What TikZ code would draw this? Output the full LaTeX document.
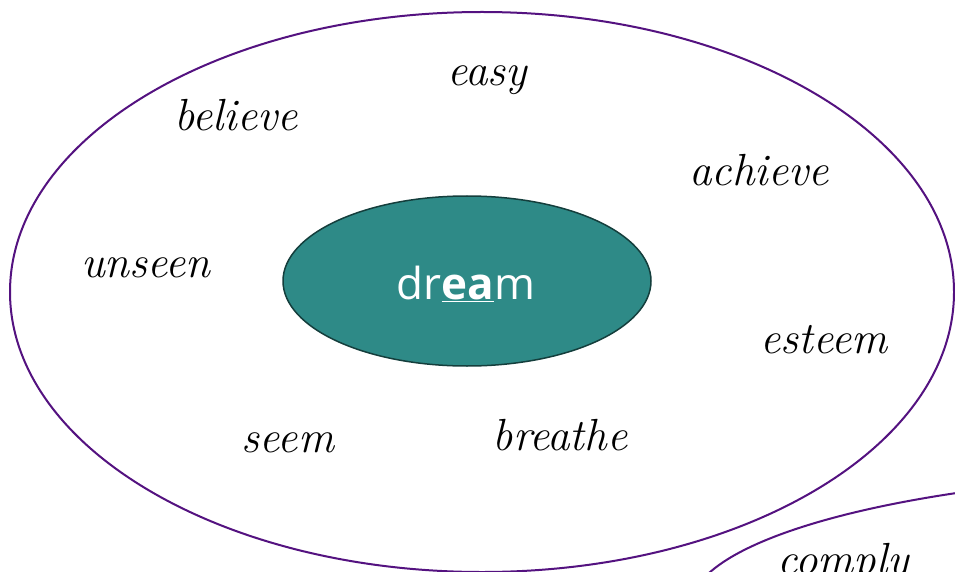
\documentclass[tikz,border=0pt]{standalone}
\usepackage{fontspec}
\usetikzlibrary{shapes.geometric}
\newfontfamily\dreamfont{Open Sans}
\definecolor{ringpurple}{RGB}{84,18,128}
\definecolor{teal1}{RGB}{46,138,135}
\definecolor{teal2}{RGB}{20,62,60}
\tikzset{
  ring/.style={draw=ringpurple, line width=2pt},
  word/.style={font=\fontsize{45}{47}\selectfont\itshape, text=black, inner sep=0pt},
}
\begin{document}
\begin{tikzpicture}[x=1pt,y=-1pt]
\useasboundingbox (0,0) rectangle (955,572);
\clip (0,0) rectangle (955,572);
\fill[white] (0,0) rectangle (955,572);
\draw[ring] (482,292) ellipse [x radius=472, y radius=280];
\draw[ring] (1250,608) ellipse [x radius=560, y radius=135];
\node[ellipse, draw=teal2, line width=1.5pt, fill=teal1, minimum width=368pt, minimum height=170pt, inner sep=0pt] (center) at (467,281) {};
\node[text=white, font=\dreamfont\fontsize{44}{46}\selectfont, inner sep=0pt, anchor=base] (dream) at (466,299)
  {dr{\bfseries\underline{ea}}m};
\node[word] (easy) at (487,80) {easy};
\node[word] (believe) at (236,115) {believe};
\node[word] (achieve) at (759,170) {achieve};
\node[word] (unseen) at (146,268) {unseen};
\node[word] (esteem) at (824,340) {esteem};
\node[word] (seem) at (288,443) {seem};
\node[word] (breathe) at (560,435) {breathe};
\node[word, anchor=base] (comply) at (843,574) {comply};
\end{tikzpicture}
\end{document}
